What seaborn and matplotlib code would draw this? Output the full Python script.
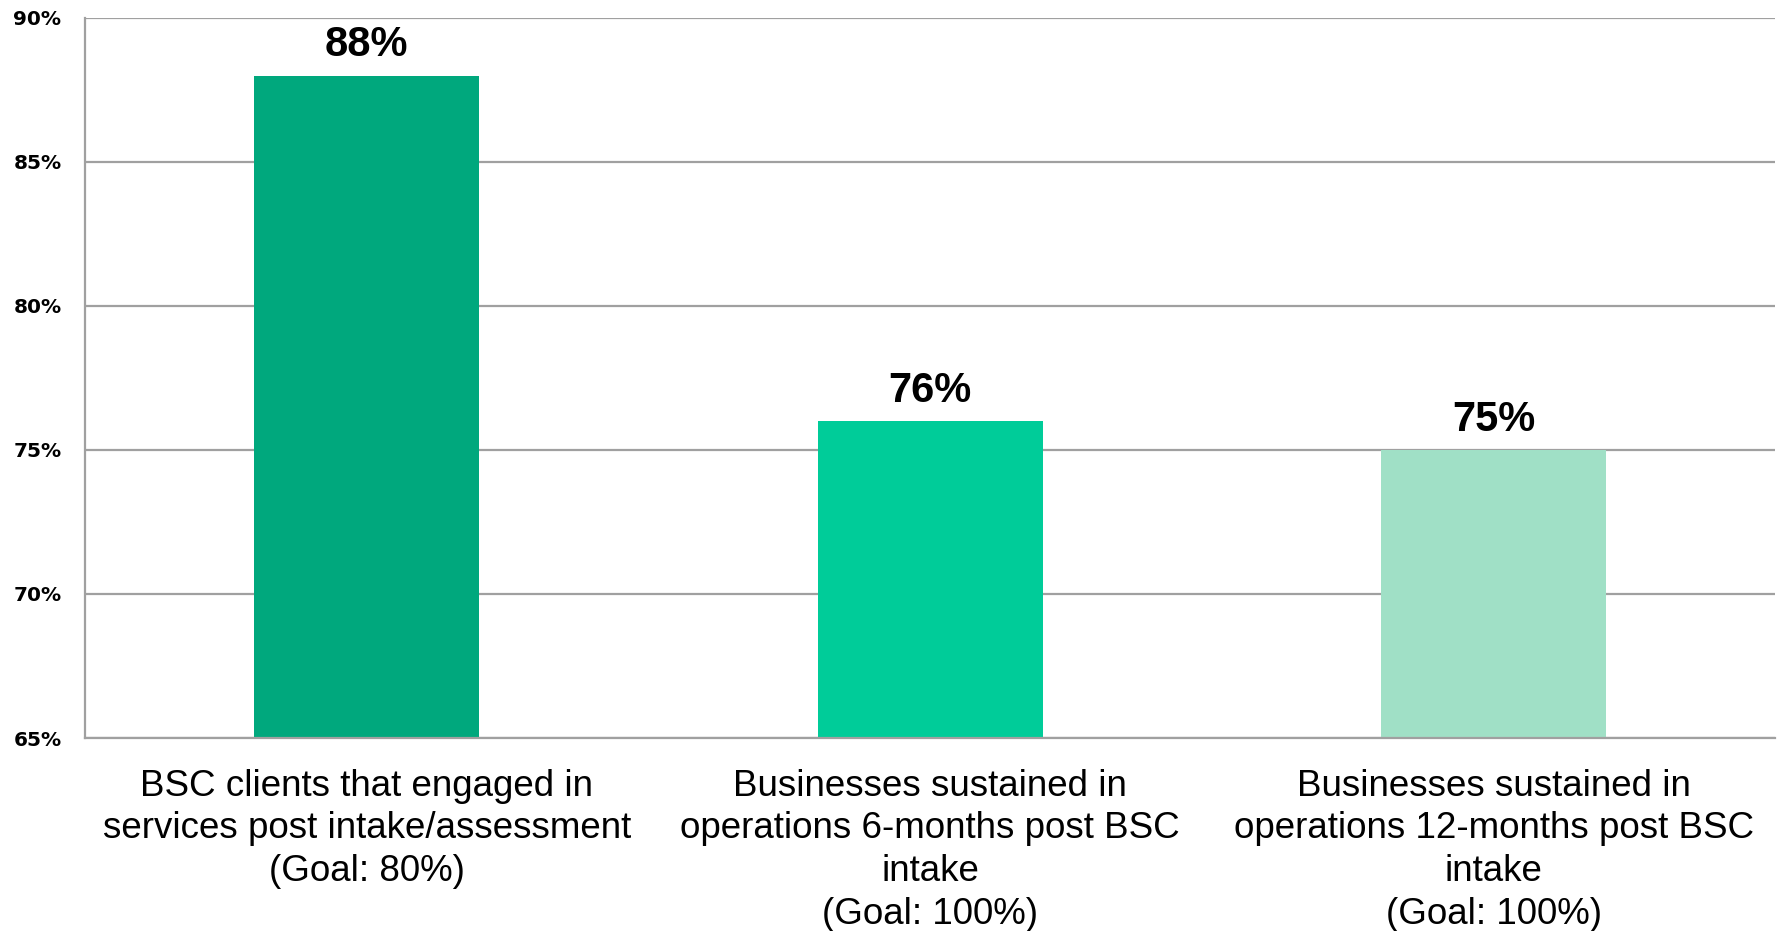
import numpy as np
import pandas as pd
import seaborn as sns
import matplotlib.pyplot as plt
from matplotlib.ticker import PercentFormatter

# Dados do grafico
categorias = [
    "BSC clients that engaged in\nservices post intake/assessment\n(Goal: 80%)",
    "Businesses sustained in\noperations 6-months post BSC\nintake\n(Goal: 100%)",
    "Businesses sustained in\noperations 12-months post BSC\nintake\n(Goal: 100%)",
]
valores = [0.88, 0.76, 0.75]
rotulos = ["88%", "76%", "75%"]
cores = ["#00A87D", "#00CC99", "#A0E0C6"]

sns.set_style("white")
plt.rcParams['font.family'] = ['Liberation Sans', 'DejaVu Sans']
plt.rcParams['text.color'] = 'black'
plt.rcParams['xtick.color'] = 'black'
plt.rcParams['ytick.color'] = 'black'

df = pd.DataFrame({'categoria': categorias, 'valor': valores})

fig = plt.figure(figsize=(17.79, 9.31), dpi=100)
ax = fig.add_axes([0.0478, 0.2073, 0.9502, 0.7734])

sns.barplot(data=df, x='categoria', y='valor', hue='categoria',
            palette=cores, width=0.4, saturation=1, legend=False,
            linewidth=0, ax=ax)

ax.set_ylim(0.65, 0.90)
ax.set_yticks(np.arange(0.65, 0.901, 0.05))
ax.yaxis.set_major_formatter(PercentFormatter(1.0, decimals=0))
ax.grid(axis='y', color='#A0A0A0', linewidth=1.6)
ax.set_axisbelow(True)
ax.set_xlabel("")
ax.set_ylabel("")

for s in ['top', 'right']:
    ax.spines[s].set_visible(False)
ax.spines['left'].set_color('#A0A0A0')
ax.spines['left'].set_linewidth(1.6)
ax.spines['bottom'].set_color('#A0A0A0')
ax.spines['bottom'].set_linewidth(1.6)

ax.tick_params(axis='y', length=0, pad=17)
ax.tick_params(axis='x', length=0, pad=22)
for t in ax.get_yticklabels():
    t.set_fontfamily('DejaVu Sans')
    t.set_fontweight('bold')
    t.set_fontsize(14.5)
for t in ax.get_xticklabels():
    t.set_fontsize(26.5)
    t.set_linespacing(1.29)

# Rotulos de valor em cima das barras
for i, (v, r) in enumerate(zip(valores, rotulos)):
    ax.annotate(r, (i, v), xytext=(0, 14), textcoords='offset points',
                ha='center', va='baseline', fontsize=30, fontweight='bold')

fig.savefig('out.png', dpi=100)
